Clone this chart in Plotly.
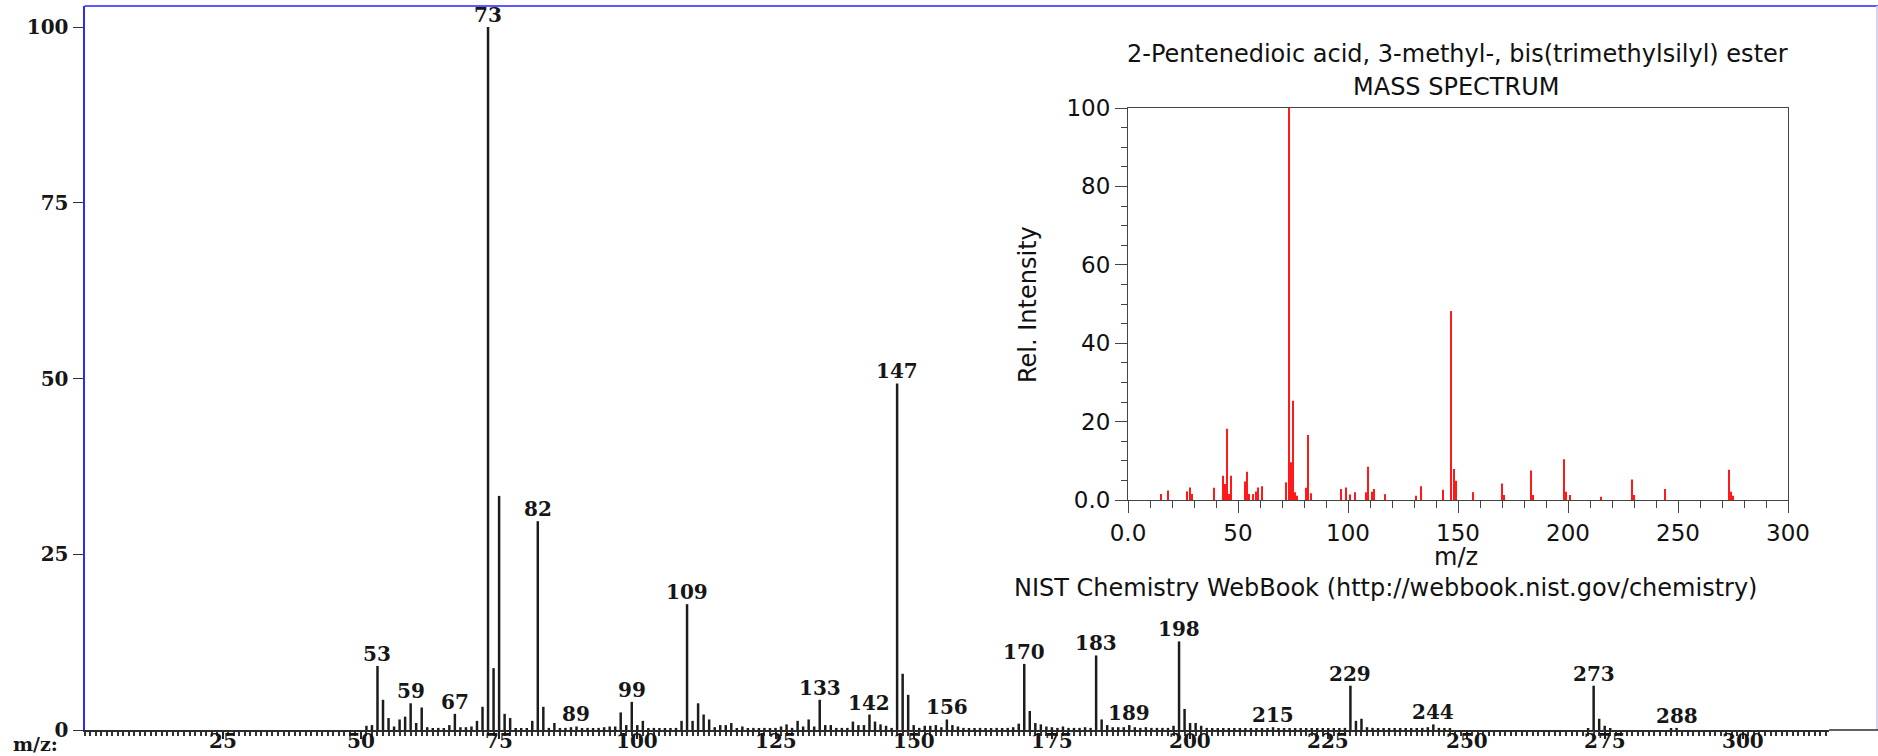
import plotly.graph_objects as go

W, H = 1878, 756

# ---- main spectrum (m/z 51 .. 290, one value per unit mass) ----
main_mz = list(range(51, 291))
main_intensity = [
    0.6, 0.7, 9.1, 4.3, 1.7, 0.5, 1.5, 1.9, 3.8, 1.0,      # 51-60
    3.2, 0.4, 0.2, 0.3, 0.2, 0.7, 2.3, 0.4, 0.4, 0.5,      # 61-70
    1.3, 3.3, 100.0, 8.8, 33.3, 2.3, 1.7, 0.2, 0.2, 0.2,   # 71-80
    1.3, 29.7, 3.3, 0.3, 1.0, 0.2, 0.3, 0.4, 0.5, 0.2,     # 81-90
    0.3, 0.2, 0.3, 0.4, 0.5, 0.5, 2.5, 0.7, 4.0, 0.7,      # 91-100
    1.3, 0.2, 0.3, 0.2, 0.2, 0.2, 0.3, 1.3, 17.9, 1.3,     # 101-110
    3.8, 2.2, 1.5, 0.4, 0.7, 0.7, 1.0, 0.2, 0.5, 0.2,      # 111-120
    0.3, 0.2, 0.3, 0.2, 0.3, 0.5, 0.8, 0.3, 1.3, 0.5,      # 121-130
    1.5, 0.5, 4.3, 0.7, 0.7, 0.3, 0.3, 0.3, 1.2, 0.7,      # 131-140
    0.7, 2.2, 1.2, 0.8, 0.6, 0.3, 49.3, 8.0, 5.0, 0.7,     # 141-150
    0.3, 0.6, 0.6, 0.7, 0.4, 1.5, 0.7, 0.5, 0.3, 0.2,      # 151-160
    0.2, 0.3, 0.2, 0.2, 0.3, 0.2, 0.3, 0.4, 0.9, 9.4,      # 161-170
    2.7, 1.0, 0.8, 0.5, 0.4, 0.3, 0.5, 0.3, 0.3, 0.3,      # 171-180
    0.4, 0.3, 10.6, 1.5, 0.7, 0.4, 0.4, 0.4, 0.7, 0.4,     # 181-190
    0.3, 0.4, 0.3, 0.3, 0.3, 0.3, 0.6, 12.6, 3.0, 1.0,     # 191-200
    1.0, 0.6, 0.3, 0.2, 0.2, 0.2, 0.2, 0.2, 0.2, 0.2,      # 201-210
    0.2, 0.2, 0.2, 0.2, 0.4, 0.2, 0.2, 0.2, 0.2, 0.2,      # 211-220
    0.2, 0.2, 0.2, 0.2, 0.2, 0.2, 0.2, 0.3, 6.3, 1.3,      # 221-230
    1.6, 0.4, 0.3, 0.2, 0.2, 0.2, 0.2, 0.2, 0.2, 0.2,      # 231-240
    0.2, 0.3, 0.4, 0.8, 0.3, 0.2, 0.2, 0.0, 0.0, 0.0,      # 241-250
    0.0, 0.0, 0.0, 0.0, 0.0, 0.0, 0.0, 0.0, 0.0, 0.0,      # 251-260
    0.0, 0.0, 0.0, 0.0, 0.0, 0.0, 0.0, 0.0, 0.0, 0.0,      # 261-270
    0.0, 0.2, 6.3, 1.6, 0.6, 0.2, 0.0, 0.0, 0.0, 0.0,      # 271-280
    0.0, 0.0, 0.0, 0.0, 0.0, 0.0, 0.2, 0.3, 0.0, 0.0,      # 281-290
]
main_labeled = [53, 59, 67, 73, 82, 89, 99, 109, 133, 142, 147,
                156, 170, 183, 189, 198, 215, 229, 244, 273, 288]
main_xticks = [25, 50, 75, 100, 125, 150, 175, 200, 225, 250, 275, 300]
main_yticks = [0, 25, 50, 75, 100]

# ---- reference spectrum shown in the inset ----
inset_mz = [15, 18, 27, 28, 29, 39, 43, 44, 45, 46, 47, 53, 54, 55, 57, 58,
            59, 61, 72, 73, 74, 75, 76, 77, 81, 82, 83, 97, 99, 101, 103,
            108, 109, 111, 112, 117, 131, 133, 143, 147, 148, 149, 157,
            170, 171, 183, 184, 198, 199, 201, 215, 229, 230, 244, 273,
            274, 275]
inset_intensity = [1.5, 2.4, 2.2, 3.2, 1.5, 3.1, 6.2, 4.1, 18.2, 1.5, 6.2,
                   4.7, 7.2, 1.5, 1.5, 2.2, 3.2, 3.5, 4.5, 100.0, 9.6, 25.3,
                   2.0, 1.1, 3.1, 16.6, 1.7, 2.8, 3.2, 1.4, 2.0, 2.0, 8.5,
                   2.1, 2.8, 1.5, 1.1, 3.5, 2.6, 48.2, 7.9, 4.9, 2.0, 4.2,
                   1.3, 7.5, 1.3, 10.4, 2.1, 1.3, 0.85, 5.2, 1.3, 2.8, 7.7,
                   2.1, 1.1]
inset_xticks = [0, 50, 100, 150, 200, 250, 300]
inset_xticktext = ["0.0", "50", "100", "150", "200", "250", "300"]
inset_yticks = [0, 20, 40, 60, 80, 100]
inset_yticktext = ["0.0", "20", "40", "60", "80", "100"]

compound = "2-Pentenedioic acid, 3-methyl-, bis(trimethylsilyl) ester"

# ---- geometry (pixels) ----
X0_PX, PX_PER_MZ = 84.5, 5.528
Y0_PX, TOP_PX = 730, 6
MZ_MAX = 315.6
Y_MAX = (Y0_PX - TOP_PX) / 7.03

def px(x):
    return x / W

def py(y):
    return (H - y) / H

SERIF = "DejaVu Serif"
SANS = "DejaVu Sans"
ink = "#161616"
serif_bold = dict(family=SERIF, size=20, color=ink, weight="bold")

fig = go.Figure()

fig.add_trace(go.Bar(
    x=main_mz, y=main_intensity, width=0.45,
    marker=dict(color="#1c1c1c", line=dict(width=0)),
    xaxis="x", yaxis="y", hoverinfo="x+y",
))

fig.add_trace(go.Bar(
    x=inset_mz, y=inset_intensity, width=0.55,
    marker=dict(color="#ff1a1a", line=dict(width=0)),
    xaxis="x2", yaxis="y2", hoverinfo="x+y",
))

annotations = []
lookup = dict(zip(main_mz, main_intensity))
for m in main_labeled:
    annotations.append(dict(
        x=m, y=lookup[m], xref="x", yref="y", text=str(m),
        showarrow=False, yanchor="bottom", yshift=-2,
        font=serif_bold,
    ))

# m/z tick labels of the main axis, set just under the baseline
for v in main_xticks:
    annotations.append(dict(
        x=v, y=py(741), xref="x", yref="paper", text=str(v),
        showarrow=False, xanchor="center", yanchor="middle",
        font=serif_bold,
    ))

annotations.append(dict(
    x=px(35), y=py(744), xref="paper", yref="paper", text="m/z:",
    showarrow=False, xanchor="center", yanchor="middle",
    font=dict(family=SERIF, size=19, color=ink, weight="bold"),
))

sans = dict(family=SANS, size=24, color="#111111")
for text, x, y, angle in [
    (compound, 1457, 54, 0),
    ("MASS SPECTRUM", 1456, 87, 0),
    ("Rel. Intensity", 1028, 305, -90),
    ("m/z", 1456, 557, 0),
    ("NIST Chemistry WebBook (http://webbook.nist.gov/chemistry)", 1385, 588, 0),
]:
    annotations.append(dict(
        x=px(x), y=py(y), xref="paper", yref="paper", text=text,
        showarrow=False, xanchor="center", yanchor="middle",
        textangle=angle, font=sans,
    ))

shapes = [
    # frame lines around the main spectrum
    dict(type="line", xref="paper", yref="paper",
         x0=px(X0_PX), x1=1, y0=py(TOP_PX), y1=py(TOP_PX),
         line=dict(color="#5a5aff", width=2)),
    dict(type="line", xref="paper", yref="paper",
         x0=px(1877), x1=px(1877), y0=py(Y0_PX), y1=py(TOP_PX),
         line=dict(color="#d6d0f2", width=2)),
    dict(type="line", xref="paper", yref="paper",
         x0=px(X0_PX + MZ_MAX * PX_PER_MZ), x1=1, y0=py(Y0_PX), y1=py(Y0_PX),
         line=dict(color="#2b2b2b", width=1.5)),
]

fig.update_layout(
    width=W, height=H,
    margin=dict(l=0, r=0, t=0, b=0, autoexpand=False),
    paper_bgcolor="white", plot_bgcolor="rgba(0,0,0,0)",
    showlegend=False,
    annotations=annotations,
    shapes=shapes,
    xaxis=dict(
        domain=[px(X0_PX), px(X0_PX + MZ_MAX * PX_PER_MZ)],
        range=[0, MZ_MAX], anchor="y", automargin=False,
        showline=True, linecolor="#2b2b2b", linewidth=1.5,
        showgrid=False, zeroline=False, showticklabels=False,
        tickmode="array", tickvals=main_xticks,
        ticks="outside", ticklen=7, tickwidth=2, tickcolor="#222222",
        minor=dict(tickmode="linear", tick0=0, dtick=1, ticks="outside",
                   ticklen=4, tickwidth=2, tickcolor="#333333"),
    ),
    yaxis=dict(
        domain=[py(Y0_PX), py(TOP_PX)],
        range=[0, Y_MAX], anchor="x", automargin=False,
        showline=True, linecolor="#2a2aff", linewidth=2,
        showgrid=False, zeroline=False,
        tickmode="array", tickvals=main_yticks,
        ticks="outside", ticklen=10, tickwidth=1, tickcolor="#333333",
        tickfont=serif_bold,
    ),
    xaxis2=dict(
        domain=[px(1128), px(1788)], range=[0, 300], anchor="y2",
        automargin=False,
        showline=True, mirror=True, linecolor="#444444", linewidth=1,
        showgrid=False, zeroline=False,
        tickmode="array", tickvals=inset_xticks, ticktext=inset_xticktext,
        ticks="outside", ticklen=12, tickcolor="#444444",
        minor=dict(tickmode="linear", tick0=0, dtick=10, ticks="outside",
                   ticklen=7, tickcolor="#444444"),
        tickfont=dict(family=SANS, size=23, color="#111111"),
    ),
    yaxis2=dict(
        domain=[py(500), py(108)], range=[0, 100], anchor="x2",
        automargin=False,
        showline=True, mirror=True, linecolor="#444444", linewidth=1,
        showgrid=False, zeroline=False,
        tickmode="array", tickvals=inset_yticks, ticktext=inset_yticktext,
        ticks="outside", ticklen=12, tickcolor="#444444",
        minor=dict(tickmode="linear", tick0=0, dtick=5, ticks="outside",
                   ticklen=6, tickcolor="#444444"),
        tickfont=dict(family=SANS, size=23, color="#111111"),
    ),
)

fig.write_html("out.html")
